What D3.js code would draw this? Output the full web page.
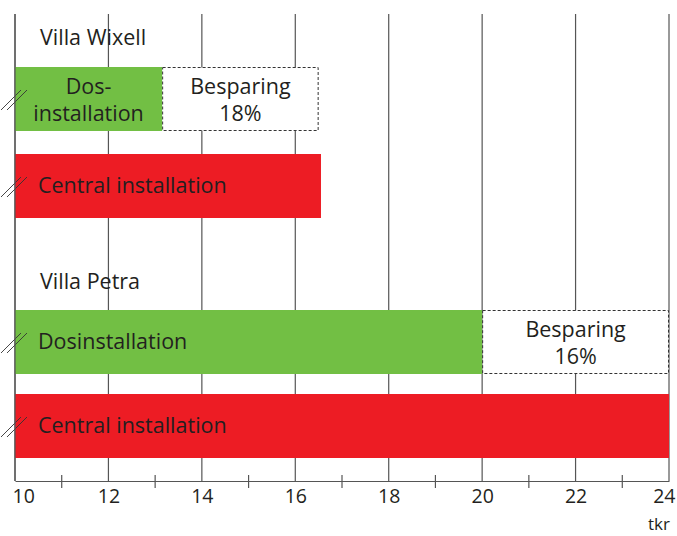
<!DOCTYPE html>
<html>
<head>
<meta charset="utf-8">
<script src="https://cdn.jsdelivr.net/npm/d3@7"></script>
<style>
  body { margin: 0; background: #fff; }
  text { font-family: "Open Sans", "Noto Sans", sans-serif; fill: #231f20; }
</style>
</head>
<body>
<svg id="chart" width="677" height="536"></svg>
<script>
// Data
const villas = ["Villa Wixell", "Villa Petra"];
const dosValues = [13.15, 20];
const centralValues = [16.55, 24];
const savingsEnd = [16.5, 24];
const savingsLabels = ["18%", "16%"];
const dosLabels = [["Dos-", "installation"], ["Dosinstallation"]];
const tickValues = [10, 12, 14, 16, 18, 20, 22, 24];
const minorTicks = [11, 13, 15, 17, 19, 21, 23];
const unit = "tkr";

const svg = d3.select("#chart");
const x = d3.scaleLinear().domain([10, 24]).range([15, 669]);
const axisY = 481;
const topY = 14;
const fs = 21.5;

// Group layouts (vertical)
const groups = [
  { labelY: 38, dosY: 67, centralY: 154 },
  { labelY: 282, dosY: 310, centralY: 394 }
];
const barH = 64;

// Grid lines
svg.append("g").selectAll("line").data(tickValues).join("line")
  .attr("x1", d => x(d)).attr("x2", d => x(d))
  .attr("y1", topY).attr("y2", axisY)
  .attr("stroke", "#555").attr("stroke-width", 1.2);

groups.forEach((g, i) => {
  // Villa label
  svg.append("text")
    .attr("x", 40).attr("y", g.labelY + 7)
    .attr("font-size", fs)
    .text(villas[i]);

  // Dos bar
  svg.append("rect")
    .attr("x", x(10)).attr("y", g.dosY)
    .attr("width", x(dosValues[i]) - x(10)).attr("height", barH)
    .attr("fill", "#72bf44");

  // Savings box
  svg.append("rect")
    .attr("x", x(dosValues[i]) + 0.5).attr("y", g.dosY + 0.5)
    .attr("width", x(savingsEnd[i]) - x(dosValues[i]) - 1).attr("height", barH - 1)
    .attr("fill", "#fff")
    .attr("stroke", "#333").attr("stroke-width", 1)
    .attr("stroke-dasharray", "3,2");

  const sx = (x(dosValues[i]) + x(savingsEnd[i])) / 2;
  const sv = svg.append("text")
    .attr("text-anchor", "middle")
    .attr("font-size", fs);
  sv.append("tspan").attr("x", sx).attr("y", g.dosY + 27).text("Besparing");
  sv.append("tspan").attr("x", sx).attr("y", g.dosY + 54).text(savingsLabels[i]);

  // Dos label
  if (dosLabels[i].length === 2) {
    const cx = (x(10) + x(dosValues[i])) / 2;
    const t = svg.append("text").attr("text-anchor", "middle").attr("font-size", fs);
    t.append("tspan").attr("x", cx).attr("y", g.dosY + 27).text(dosLabels[i][0]);
    t.append("tspan").attr("x", cx).attr("y", g.dosY + 54).text(dosLabels[i][1]);
  } else {
    svg.append("text")
      .attr("x", 38).attr("y", g.dosY + barH / 2 + 7)
      .attr("font-size", fs)
      .text(dosLabels[i][0]);
  }

  // Central bar
  svg.append("rect")
    .attr("x", x(10)).attr("y", g.centralY)
    .attr("width", x(centralValues[i]) - x(10)).attr("height", barH)
    .attr("fill", "#ed1c24");
  svg.append("text")
    .attr("x", 38).attr("y", g.centralY + barH / 2 + 7)
    .attr("font-size", fs)
    .text("Central installation");

  // Break markers
  [g.dosY, g.centralY].forEach(by => {
    const my = by + barH / 2;
    [-3, 3].forEach(off => {
      svg.append("line")
        .attr("x1", 4 + off).attr("y1", my + 11)
        .attr("x2", 24 + off).attr("y2", my - 9)
        .attr("stroke", "#333").attr("stroke-width", 0.9);
    });
  });
});

// Left edge line over bars
svg.append("line")
  .attr("x1", x(10)).attr("x2", x(10))
  .attr("y1", topY).attr("y2", axisY)
  .attr("stroke", "#555").attr("stroke-width", 1.2);

// Axis
const axis = d3.axisBottom(x).tickValues(tickValues).tickSize(0).tickPadding(8);
const ag = svg.append("g").attr("transform", `translate(0,${axisY})`).call(axis);
ag.select(".domain").attr("stroke", "#555").attr("stroke-width", 1.2);
ag.selectAll("text").attr("font-size", 19.5).attr("font-family", "Open Sans, sans-serif").attr("fill", "#231f20");
// keep end labels inside the window
ag.selectAll(".tick text").attr("text-anchor", d => d === 10 ? "start" : d === 24 ? "end" : "middle")
  .attr("dx", d => d === 10 ? -3 : d === 24 ? 6 : 0);

svg.append("g").selectAll("line").data(minorTicks).join("line")
  .attr("x1", d => x(d)).attr("x2", d => x(d))
  .attr("y1", axisY - 6).attr("y2", axisY + 7)
  .attr("stroke", "#555").attr("stroke-width", 1.2);

svg.append("text")
  .attr("x", 670).attr("y", 530)
  .attr("text-anchor", "end")
  .attr("font-size", 17)
  .text(unit);
</script>
</body>
</html>
